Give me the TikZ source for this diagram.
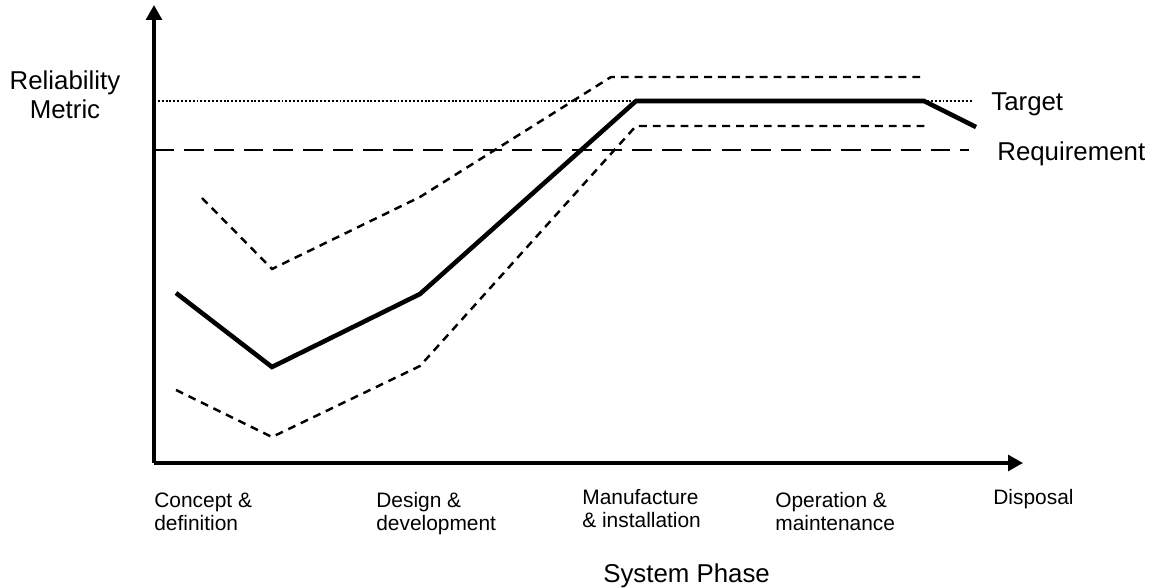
\documentclass[tikz,border=0pt]{standalone}
\usepackage{fontspec}
\setmainfont{Liberation Sans}
\usetikzlibrary{arrows.meta}
\begin{document}
\begin{tikzpicture}[x=0.02cm,y=-0.02cm,
  axisline/.style={line width=1.9pt,-{Triangle[length=8.5pt,width=9pt]}},
  mainline/.style={line width=2.6pt,line join=miter},
  boundline/.style={line width=1.4pt,dash pattern=on 4.5pt off 3.4pt},
  reqline/.style={line width=1.3pt,dash pattern=on 11.3pt off 5.7pt},
  tgtline/.style={line width=1.3pt,dash pattern=on 1.1pt off 1.1pt},
  biglabel/.style={font=\fontsize{14.7}{17}\selectfont,inner sep=0pt,anchor=base west},
  phaselabel/.style={font=\fontsize{11.9}{13}\selectfont,inner sep=0pt,anchor=base west,align=left}]
\useasboundingbox (0,0) rectangle (1150,588);
% axes
\coordinate (o) at (154,463);
\coordinate (ytop) at (154,5);
\coordinate (xend) at (1023,463);
\draw[axisline] (o) -- (ytop);
\draw[axisline] (o) -- (xend);
% target and requirement
\coordinate (t0) at (154,101);
\coordinate (t1) at (972,101);
\coordinate (r0) at (154,150);
\coordinate (r1) at (969,150);
\draw[tgtline] (t0) -- (t1);
\draw[reqline] (r0) -- (r1);
% upper bound
\coordinate (u1) at (202,198);
\coordinate (u2) at (272,269);
\coordinate (u3) at (420,197);
\coordinate (u4) at (611,77);
\coordinate (u5) at (921,77);
\draw[boundline] (u1) -- (u2) -- (u3) -- (u4) -- (u5);
% lower bound
\coordinate (l1) at (176,390);
\coordinate (l2) at (272,437);
\coordinate (l3) at (420,366);
\coordinate (l4) at (636,126);
\coordinate (l5) at (925,126);
\draw[boundline] (l1) -- (l2) -- (l3) -- (l4) -- (l5);
% main curve
\coordinate (m1) at (176,293);
\coordinate (m2) at (272,367);
\coordinate (m3) at (420,294);
\coordinate (m4) at (636,101);
\coordinate (m5) at (924,101);
\coordinate (m6) at (976,127);
\draw[mainline] (m1) -- (m2) -- (m3) -- (m4) -- (m5) -- (m6);
% labels
\node[font=\fontsize{14.7}{17}\selectfont,inner sep=0pt,align=center,anchor=base] (ylab) at (65,119) {Reliability\\Metric};
\node[biglabel] (target) at (991,111) {Target};
\node[biglabel] (req) at (997,160) {Requirement};
\node[biglabel] (xlab) at (603,582) {System Phase};
\node[phaselabel] (p1) at (154,530) {Concept \&\\definition};
\node[phaselabel] (p2) at (376,530) {Design \&\\development};
\node[phaselabel] (p3) at (582,527) {Manufacture\\\& installation};
\node[phaselabel] (p4) at (775,530) {Operation \&\\maintenance};
\node[phaselabel] (p5) at (993,504) {Disposal};
\end{tikzpicture}
\end{document}
